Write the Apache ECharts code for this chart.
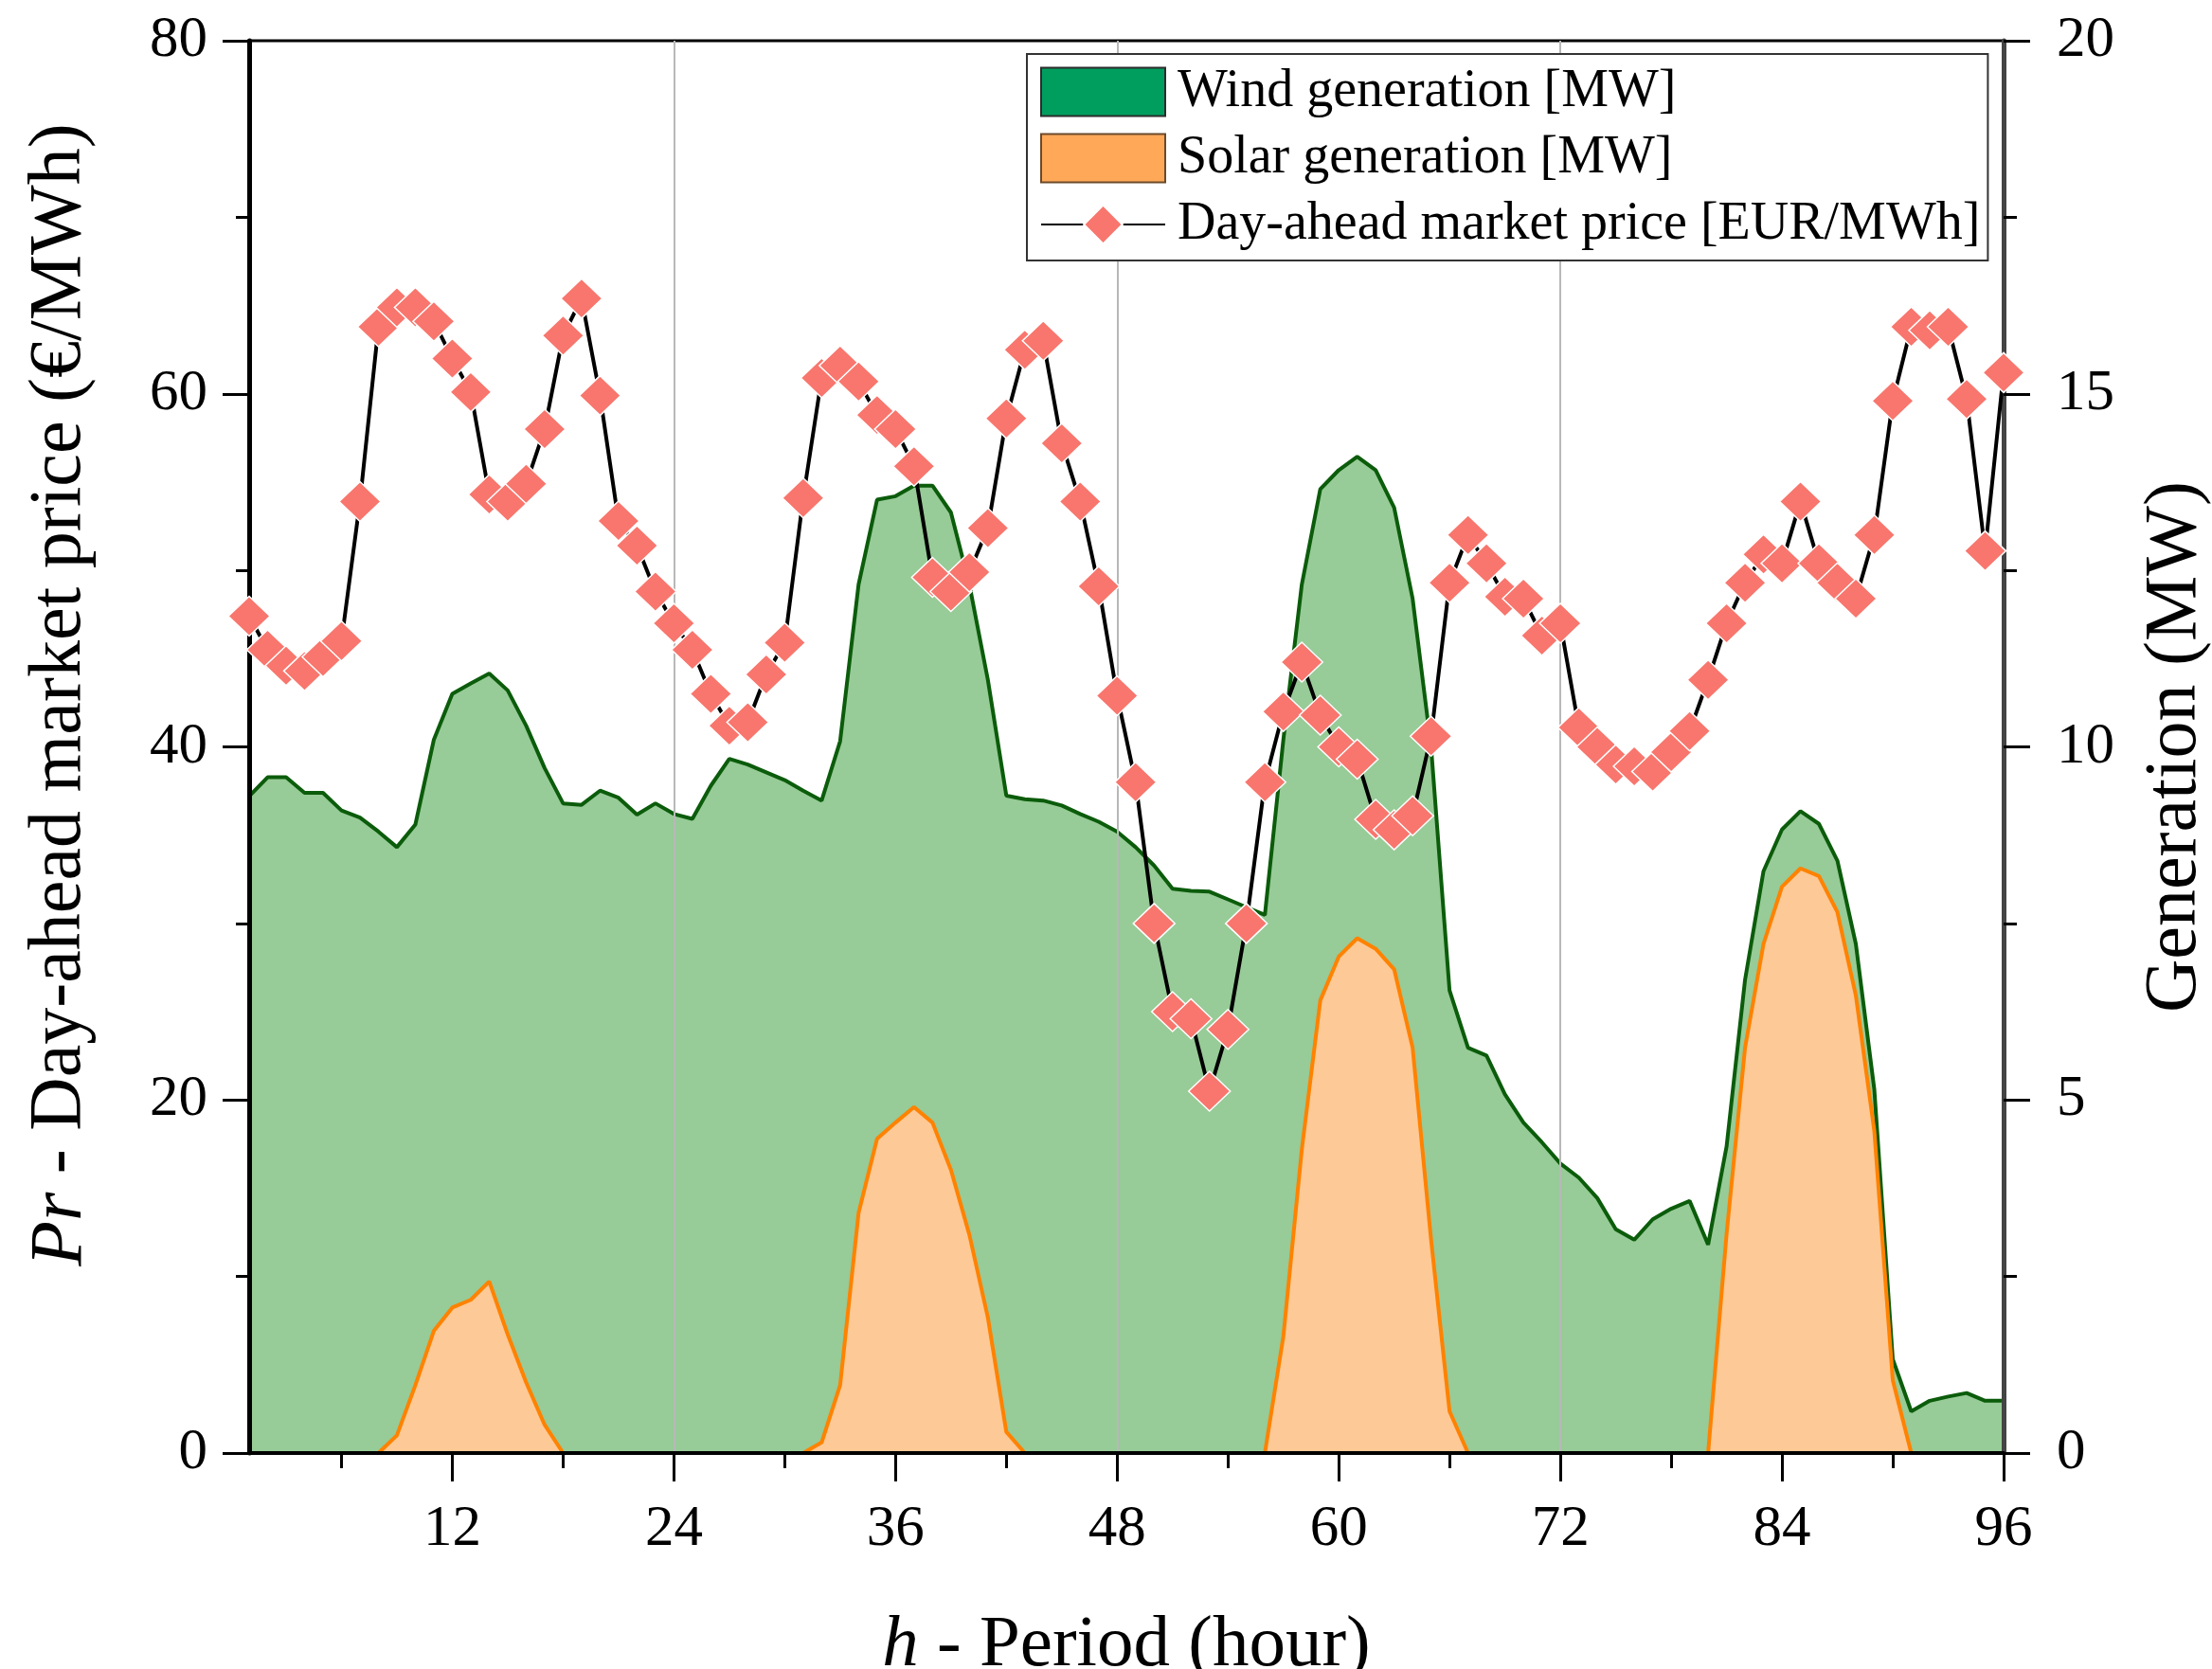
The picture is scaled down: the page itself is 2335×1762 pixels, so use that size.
<!DOCTYPE html>
<html>
<head>
<meta charset="utf-8">
<title>Wind, solar and day-ahead price</title>
<script src="https://cdn.jsdelivr.net/npm/echarts@6/dist/echarts.min.js"></script>
<style>
  html, body { margin: 0; padding: 0; background: #fff; }
  #chart { width: 2335px; height: 1762px; }
</style>
</head>
<body>
<div id="chart"></div>
<script>
// hour index 1..96
var hours = Array.from({ length: 96 }, function (_, i) { return i + 1; });

// day-ahead market price, EUR/MWh (left axis)
var price = [
  47.4, 45.5, 44.6, 44.3, 45.1, 46.0, 53.9, 63.8, 64.9, 64.9, 64.1, 62.0,
  60.1, 54.3, 53.9, 54.9, 58.0, 63.3, 65.4, 59.9, 52.8, 51.4, 48.8, 47.0,
  45.5, 43.0, 41.2, 41.4, 44.1, 45.9, 54.1, 60.9, 61.6, 60.7, 58.8, 58.0,
  55.9, 49.6, 48.8, 49.9, 52.4, 58.6, 62.5, 63.0, 57.2, 53.9, 49.1, 42.9,
  38.0, 30.0, 25.0, 24.6, 20.5, 24.0, 30.0, 38.0, 42.0, 44.8, 41.8, 40.0,
  39.3, 35.9, 35.3, 36.1, 40.6, 49.3, 52.0, 50.4, 48.5, 48.4, 46.3, 47.0,
  41.1, 40.0, 39.0, 38.9, 38.6, 39.7, 40.9, 43.8, 47.0, 49.3, 50.9, 50.4,
  53.9, 50.4, 49.3, 48.4, 52.0, 59.6, 63.8, 63.6, 63.8, 59.7, 51.1, 61.2
];

// wind generation, MW (right axis)
var wind = [
  9.30, 9.57, 9.57, 9.35, 9.35, 9.10, 9.00, 8.80, 8.58, 8.90, 10.1, 10.75,
  10.9, 11.04, 10.8, 10.3, 9.70, 9.20, 9.18, 9.38, 9.28, 9.04, 9.20, 9.05,
  8.98, 9.45, 9.83, 9.75, 9.64, 9.53, 9.38, 9.24, 10.08, 12.3, 13.5, 13.55,
  13.7, 13.7, 13.32, 12.3, 10.95, 9.31, 9.26, 9.24, 9.17, 9.05, 8.94, 8.80,
  8.58, 8.32, 7.99, 7.96, 7.95, 7.84, 7.73, 7.62, 10.1, 12.3, 13.65, 13.92,
  14.11, 13.92, 13.39, 12.1, 10.0, 6.55, 5.74, 5.63, 5.08, 4.68, 4.40, 4.10,
  3.90, 3.61, 3.17, 3.02, 3.31, 3.46, 3.57, 2.95, 4.34, 6.70, 8.24, 8.83,
  9.09, 8.91, 8.39, 7.21, 5.15, 1.33, 0.59, 0.74, 0.80, 0.85, 0.74, 0.74
];

// solar generation, MW (right axis)
var solar = [
  0, 0, 0, 0, 0, 0, 0, 0, 0.25, 0.96, 1.73, 2.06,
  2.17, 2.43, 1.68, 1.00, 0.40, 0, 0, 0, 0, 0, 0, 0,
  0, 0, 0, 0, 0, 0, 0, 0.15, 0.96, 3.40, 4.45, 4.68,
  4.90, 4.68, 4.01, 3.09, 1.92, 0.30, 0, 0, 0, 0, 0, 0,
  0, 0, 0, 0, 0, 0, 0, 0, 1.65, 4.30, 6.41, 7.03,
  7.29, 7.14, 6.85, 5.74, 3.02, 0.59, 0, 0, 0, 0, 0, 0,
  0, 0, 0, 0, 0, 0, 0, 0, 3.10, 5.74, 7.21, 8.02,
  8.28, 8.17, 7.66, 6.48, 4.56, 1.03, 0, 0, 0, 0, 0, 0
];

var seriesNames = ['Wind generation [MW]', 'Solar generation [MW]', 'Day-ahead market price [EUR/MWh]'];

var serif = 'Liberation Serif';
var tickSize = 61;

var chart = echarts.init(document.getElementById('chart'));

var option = {
  animation: false,
  grid: {
    left: 263,
    right: 220,
    top: 43,
    bottom: 228,
    outerBoundsMode: 'none',
    containLabel: false,
    show: true,
    borderColor: '#000',
    borderWidth: 3
  },
  legend: {
    orient: 'vertical',
    left: 1084,
    top: 57,
    z: 10,
    itemWidth: 131,
    itemHeight: 51,
    itemGap: 14,
    padding: [12, 8, 10, 14],
    backgroundColor: '#fff',
    borderColor: '#333',
    borderWidth: 2,
    borderRadius: 0,
    textStyle: { fontSize: 56, fontFamily: serif, color: '#000', padding: [0, 0, 0, 8] },
    data: [
      { name: seriesNames[0], icon: 'rect', itemStyle: { color: '#009E5E', borderColor: '#2c2c2c', borderWidth: 2 } },
      { name: seriesNames[1], icon: 'rect', itemStyle: { color: '#FFA858', borderColor: '#6b4a2a', borderWidth: 2 } },
      { name: seriesNames[2] }
    ]
  },
  xAxis: [
    {
      type: 'category',
      data: hours,
      boundaryGap: false,
      position: 'bottom',
      z: 3,
      axisLine: { show: true, lineStyle: { color: '#000', width: 4 } },
      axisTick: {
        show: true,
        inside: false,
        length: 30,
        interval: function (i) { return (i + 1) % 12 === 0; },
        lineStyle: { color: '#000', width: 3 }
      },
      axisLabel: {
        interval: function (i) { return (i + 1) % 12 === 0; },
        margin: 50,
        fontSize: tickSize,
        fontFamily: serif,
        color: '#000'
      },
      splitLine: { //网格线 only at 24/48/72
        show: true,
        interval: function (i) { return (i + 1) % 24 === 0 && i + 1 < 96; },
        lineStyle: { color: '#b8b8b8', width: 2 }
      },
      name: '{i|h} - Period (hour)',
      nameLocation: 'middle',
      nameGap: 165,
      nameTextStyle: {
        fontSize: 77,
        fontFamily: serif,
        color: '#000',
        rich: { i: { fontSize: 77, fontFamily: serif, fontStyle: 'italic', color: '#000' } }
      }
    },
    {
      // minor ticks at 6, 18, 30 ...
      type: 'category',
      data: hours,
      boundaryGap: false,
      position: 'bottom',
      z: 3,
      axisLine: { show: false },
      axisTick: {
        show: true,
        length: 16,
        interval: function (i) { return (i + 1) % 12 === 6; },
        lineStyle: { color: '#000', width: 3 }
      },
      axisLabel: { show: false },
      splitLine: { show: false }
    }
  ],
  yAxis: [
    {
      type: 'value',
      position: 'left',
      min: 0,
      max: 80,
      interval: 20,
      z: 3,
      axisLine: { show: true, lineStyle: { color: '#000', width: 5 } },
      axisTick: { show: true, length: 28, lineStyle: { color: '#000', width: 3 } },
      minorTick: { show: true, splitNumber: 2, length: 14, lineStyle: { color: '#000', width: 3 } },
      splitLine: { show: false },
      axisLabel: { margin: 44, fontSize: tickSize, fontFamily: serif, color: '#000' },
      name: '{i|Pr} - Day-ahead market price (€/MWh)',
      nameLocation: 'middle',
      nameRotate: 90,
      nameGap: 160,
      nameTextStyle: {
        fontSize: 78,
        fontFamily: serif,
        color: '#000',
        padding: [0, 0, 0, 110],
        rich: { i: { fontSize: 78, fontFamily: serif, fontStyle: 'italic', color: '#000' } }
      }
    },
    {
      type: 'value',
      position: 'right',
      min: 0,
      max: 20,
      interval: 5,
      z: 3,
      axisLine: { show: true, lineStyle: { color: '#444', width: 5 } },
      axisTick: { show: true, length: 28, lineStyle: { color: '#000', width: 3 } },
      minorTick: { show: true, splitNumber: 2, length: 14, lineStyle: { color: '#000', width: 3 } },
      splitLine: { show: false },
      axisLabel: { margin: 56, fontSize: tickSize, fontFamily: serif, color: '#000' },
      name: 'Generation (MW)',
      nameLocation: 'middle',
      nameRotate: 90,
      nameGap: 143,
      nameTextStyle: { fontSize: 78, fontFamily: serif, color: '#000' }
    }
  ],
  series: [
    {
      name: seriesNames[0],
      type: 'line',
      xAxisIndex: 0,
      yAxisIndex: 1,
      data: wind,
      symbol: 'none',
      showSymbol: false,
      lineStyle: { color: '#0b5c0b', width: 4 },
      itemStyle: { color: '#009E5E' },
      areaStyle: { color: '#97cb97', opacity: 1 },
      z: 2
    },
    {
      name: seriesNames[1],
      type: 'line',
      xAxisIndex: 0,
      yAxisIndex: 1,
      data: solar,
      symbol: 'none',
      showSymbol: false,
      lineStyle: { color: '#ff8200', width: 4 },
      itemStyle: { color: '#FFA858' },
      areaStyle: { color: '#fdc996', opacity: 1 },
      z: 2
    },
    {
      name: seriesNames[2],
      type: 'line',
      xAxisIndex: 0,
      yAxisIndex: 0,
      data: price,
      symbol: 'diamond',
      symbolSize: [44, 42],
      showAllSymbol: true,
      lineStyle: { color: '#000', width: 4 },
      itemStyle: { color: '#f8766d', borderColor: '#fff', borderWidth: 1.5 },
      z: 5
    }
  ]
};

chart.setOption(option);
</script>
</body>
</html>
